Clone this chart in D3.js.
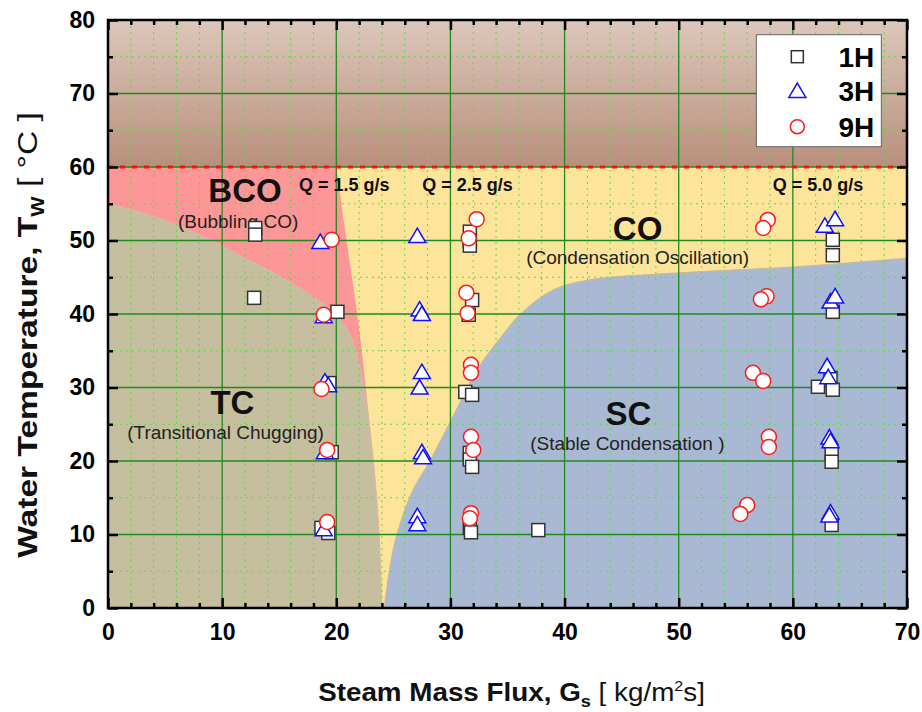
<!DOCTYPE html>
<html>
<head>
<meta charset="utf-8" />
<script src="https://d3js.org/d3.v7.min.js"></script>
<style>
  body { margin: 0; background: #fff; }
  svg text { font-family: Arial, "Liberation Sans", sans-serif; }
</style>
</head>
<body>
<div id="visu"></div>
<script>
// ticks
const xTicks = [0, 10, 20, 30, 40, 50, 60, 70];
const yTicks = [0, 10, 20, 30, 40, 50, 60, 70, 80];

// regime boundaries [Gs, Tw]
const tcBoundary = [[0,55],[4,53.3],[8,50.8],[12,47.6],[15,45.2],[17.5,42.8],[19.5,40.6],[21,37.8],[21.9,34],[22.6,28.3],[23.3,19.2],[23.75,10.2],[24,0]];
const bcoBoundary = [[20,60],[21,49],[22,38],[22.65,29],[23.3,19.2],[23.75,10.2],[24,0]];
const scBoundary = [[24.2,0],[24.7,5.6],[25.3,10],[26.7,16],[28.2,20],[30.2,26],[32.5,32.8],[34.5,37],[36,39.8],[38.9,43.2],[42,44.6],[50,45.6],[60,46.4],[70,47.6]];
const limitTemp = 60;

// measured points [Gs, Tw]
const points1H = [[12.9,51.7],[12.9,50.8],[12.8,42.2],[20.1,40.3],[19.4,30.6],[19.6,21.2],[18.7,10.9],[19.3,10.2],
  [31.7,51.2],[31.7,50.0],[31.7,49.3],[31.9,41.9],[31.6,39.9],[31.3,29.4],[31.9,29.0],[31.7,21.1],[31.7,20.2],[31.9,19.2],[31.7,10.9],[31.8,10.3],
  [37.7,10.6],
  [63.5,50.1],[63.5,48.0],[63.5,40.3],[63.3,31.3],[62.2,30.1],[63.5,29.7],[63.4,21.1],[63.4,19.9],[63.4,11.3]];
const points3H = [[18.6,49.7],[18.9,39.6],[19.0,30.7],[19.3,30.2],[19.0,21.1],[18.9,10.6],
  [27.1,50.5],[27.3,40.5],[27.5,39.9],[27.5,32.0],[27.3,29.9],[27.5,21.1],[27.6,20.4],[27.1,12.4],[27.1,11.3],
  [62.8,51.9],[63.7,52.8],[63.3,41.6],[63.7,42.3],[63.0,32.8],[63.1,31.3],[63.2,23.1],[63.3,22.6],[63.3,12.9],[63.2,12.5]];
const points9H = [[19.6,50.1],[18.9,39.9],[18.7,29.8],[19.2,21.5],[19.2,11.7],
  [32.3,52.9],[31.6,50.3],[31.4,42.9],[31.5,40.1],[31.8,33.1],[31.8,32.0],[31.8,23.3],[32.0,21.5],[31.8,12.9],[31.7,12.2],
  [57.8,52.8],[57.4,51.7],[57.7,42.4],[57.2,42.0],[56.5,32.0],[57.4,30.9],[57.9,23.3],[57.9,21.9],[56.0,14.0],[55.4,12.8]];

const legendNames = ["1H", "3H", "9H"];

const width = 922, height = 712;
const margin = {top: 20, right: 15, bottom: 104, left: 108};
const W = width - margin.left - margin.right;
const H = height - margin.top - margin.bottom;

const svg = d3.select("#visu").append("svg")
  .attr("width", width).attr("height", height);

const x = d3.scaleLinear().domain([0, 70]).range([0, W]);
const y = d3.scaleLinear().domain([0, 80]).range([H, 0]);

const g = svg.append("g").attr("transform", `translate(${margin.left},${margin.top})`);

// gradient for the top band
const defs = svg.append("defs");
const grad = defs.append("linearGradient").attr("id", "topBand")
  .attr("x1", 0).attr("y1", 0).attr("x2", 0).attr("y2", 1);
grad.append("stop").attr("offset", "0%").attr("stop-color", "#dcc7bb");
grad.append("stop").attr("offset", "100%").attr("stop-color", "#b98f7c");

// regions
const line = d3.line().x(d => x(d[0])).y(d => y(d[1])).curve(d3.curveCatmullRom);

// CO (whole lower area, yellow)
g.append("rect").attr("x", 0).attr("y", y(limitTemp)).attr("width", W).attr("height", y(0) - y(limitTemp))
  .attr("fill", "#fde49b");

// BCO pink
g.append("path")
  .attr("d", "M" + x(0) + "," + y(limitTemp) + line(bcoBoundary).replace(/^M/, "L") + "L" + x(0) + "," + y(0) + "Z")
  .attr("fill", "#fd9696");

// SC blue
g.append("path")
  .attr("d", line(scBoundary) + "L" + x(70) + "," + y(0) + "Z")
  .attr("fill", "#aab9d3").attr("stroke", "#c9b98f").attr("stroke-width", 1);

// TC khaki
g.append("path")
  .attr("d", "M" + x(0) + "," + y(0) + line(tcBoundary).replace(/^M/, "L") + "Z")
  .attr("fill", "#c5bf9f").attr("stroke", "#e0b8a0").attr("stroke-width", 1);

// top band
g.append("rect").attr("x", 0).attr("y", 0).attr("width", W).attr("height", y(limitTemp))
  .attr("fill", "url(#topBand)");

// grid: minor dotted
g.append("g").selectAll("line").data(d3.range(2, 70, 2).filter(v => v % 10 !== 0)).enter().append("line")
  .attr("x1", d => x(d)).attr("x2", d => x(d)).attr("y1", 0).attr("y2", H)
  .attr("stroke", "#55e040").attr("stroke-width", 1).attr("stroke-dasharray", "2,4");
g.append("g").selectAll("line").data(d3.range(5, 80, 10)).enter().append("line")
  .attr("y1", d => y(d)).attr("y2", d => y(d)).attr("x1", 0).attr("x2", W)
  .attr("stroke", "#55e040").attr("stroke-width", 1).attr("stroke-dasharray", "2,4");
// grid: major solid
g.append("g").selectAll("line").data(xTicks.slice(1, -1)).enter().append("line")
  .attr("x1", d => x(d)).attr("x2", d => x(d)).attr("y1", 0).attr("y2", H)
  .attr("stroke", "#1f8a1f").attr("stroke-width", 1.3);
g.append("g").selectAll("line").data(yTicks.slice(1, -1)).enter().append("line")
  .attr("y1", d => y(d)).attr("y2", d => y(d)).attr("x1", 0).attr("x2", W)
  .attr("stroke", "#1f8a1f").attr("stroke-width", 1.3);

// red dashed limit
g.append("line").attr("x1", 0).attr("x2", W).attr("y1", y(limitTemp)).attr("y2", y(limitTemp))
  .attr("stroke", "#ff1010").attr("stroke-width", 3).attr("stroke-dasharray", "5,7");

// region labels
const bold = (sel) => sel.attr("font-weight", "bold").attr("fill", "#111");
function regionLabel(big, bx, by, small, sx, sy) {
  g.append("text").attr("x", x(bx)).attr("y", y(by)).attr("text-anchor", "middle")
    .attr("font-size", 33).call(bold).text(big);
  g.append("text").attr("x", x(sx)).attr("y", y(sy)).attr("text-anchor", "middle")
    .attr("font-size", 19).attr("fill", "#222").text(small);
}
regionLabel("BCO", 12.0, 55.2, "(Bubbling CO)", 11.4, 51.7);
regionLabel("TC", 10.9, 26.4, "(Transitional Chugging)", 10.3, 23.0);
regionLabel("CO", 46.4, 50.1, "(Condensation Oscillation)", 46.4, 46.8);
regionLabel("SC", 45.6, 24.9, "(Stable Condensation )", 45.5, 21.5);

const qLabels = [["Q = 1.5 g/s", 20.7], ["Q = 2.5 g/s", 31.5], ["Q = 5.0 g/s", 62.2]];
qLabels.forEach(([t, xv]) => {
  g.append("text").attr("x", x(xv)).attr("y", y(56.7)).attr("text-anchor", "middle")
    .attr("font-size", 18).call(bold).text(t);
});

// markers
const sq = 13, tri = 17, rc = 7.5;
function drawSquare(sel) {
  sel.append("rect").attr("x", d => x(d[0]) - sq / 2).attr("y", d => y(d[1]) - sq / 2)
    .attr("width", sq).attr("height", sq).attr("fill", "#fff").attr("stroke", "#333").attr("stroke-width", 1.5);
}
function triPath(cx, cy) {
  const h = tri * 0.85;
  return `M${cx},${cy - h * 0.6}L${cx + tri / 2},${cy + h * 0.4}L${cx - tri / 2},${cy + h * 0.4}Z`;
}
g.append("g").selectAll("rect").data(points1H).enter().call(drawSquare);
g.append("g").selectAll("path").data(points3H).enter().append("path")
  .attr("d", d => triPath(x(d[0]), y(d[1])))
  .attr("fill", "#fff").attr("stroke", "#1010ff").attr("stroke-width", 1.5);
g.append("g").selectAll("circle").data(points9H).enter().append("circle")
  .attr("cx", d => x(d[0])).attr("cy", d => y(d[1])).attr("r", rc)
  .attr("fill", "#fff").attr("stroke", "#ff1a1a").attr("stroke-width", 1.5);

// axes
function styleAxis(a) {
  a.select(".domain").remove();
  a.selectAll(".tick line").attr("stroke", "#000").attr("stroke-width", 2.5);
  a.selectAll("text").attr("font-size", 23).attr("font-weight", "bold").attr("fill", "#000");
}
const xMinor = d3.range(0, 71, 2).filter(v => v % 10 !== 0);
const yMinor = d3.range(5, 80, 10);

g.append("g").attr("transform", `translate(0,${H})`)
  .call(d3.axisBottom(x).tickValues(xTicks).tickSize(-10).tickPadding(16)).call(styleAxis);
g.append("g").attr("transform", `translate(0,${H})`)
  .call(d3.axisBottom(x).tickValues(xMinor).tickSize(-5).tickFormat("")).call(styleAxis);
g.append("g")
  .call(d3.axisTop(x).tickValues(xTicks).tickSize(-10).tickFormat("")).call(styleAxis);
g.append("g")
  .call(d3.axisTop(x).tickValues(xMinor).tickSize(-5).tickFormat("")).call(styleAxis);
g.append("g")
  .call(d3.axisLeft(y).tickValues(yTicks).tickSize(-10).tickPadding(13)).call(styleAxis);
g.append("g")
  .call(d3.axisLeft(y).tickValues(yMinor).tickSize(-5).tickFormat("")).call(styleAxis);
g.append("g").attr("transform", `translate(${W},0)`)
  .call(d3.axisRight(y).tickValues(yTicks).tickSize(-10).tickFormat("")).call(styleAxis);
g.append("g").attr("transform", `translate(${W},0)`)
  .call(d3.axisRight(y).tickValues(yMinor).tickSize(-5).tickFormat("")).call(styleAxis);

// frame
g.append("rect").attr("x", 0).attr("y", 0).attr("width", W).attr("height", H)
  .attr("fill", "none").attr("stroke", "#000").attr("stroke-width", 2.5);

// legend
const lg = g.append("g").attr("transform", `translate(${x(56.8)},${y(78)})`);
lg.append("rect").attr("width", 125).attr("height", 112).attr("fill", "#fff").attr("stroke", "#666");
const legendRows = [22, 56, 92];
lg.append("rect").attr("x", 35).attr("y", legendRows[0] - 6).attr("width", 12).attr("height", 12)
  .attr("fill", "#fff").attr("stroke", "#333").attr("stroke-width", 1.5);
lg.append("path").attr("d", triPath(41, legendRows[1] + 1))
  .attr("fill", "#fff").attr("stroke", "#1010ff").attr("stroke-width", 1.5);
lg.append("circle").attr("cx", 41).attr("cy", legendRows[2]).attr("r", 7)
  .attr("fill", "#fff").attr("stroke", "#ff1a1a").attr("stroke-width", 1.5);
lg.selectAll("text.name").data(legendNames).enter().append("text")
  .attr("x", 118).attr("y", (d, i) => legendRows[i] + 10).attr("text-anchor", "end")
  .attr("font-size", 28).attr("font-weight", "bold").text(d => d);

// axis titles (stretched to the reference length)
function stretch(text, target) {
  const w = text.node().getBBox().width;
  text.attr("transform", `scale(${target / w},1)`);
}
const xg = svg.append("g").attr("transform", `translate(${(318 + 705) / 2},701)`);
const xt = xg.append("text").attr("text-anchor", "middle").attr("font-size", 26).attr("fill", "#111");
xt.append("tspan").attr("font-weight", "bold").text("Steam Mass Flux, G");
xt.append("tspan").attr("font-size", 17).attr("dy", 6).attr("font-weight", "bold").text("s");
xt.append("tspan").attr("dy", -6).text(" [ kg/m");
xt.append("tspan").attr("font-size", 15).attr("dy", -10).text("2");
xt.append("tspan").attr("dy", 10).text("s]");
stretch(xt, 387);

const yg = svg.append("g").attr("transform", `translate(37,335) rotate(-90)`);
const yt = yg.append("text").attr("text-anchor", "middle").attr("font-size", 28).attr("fill", "#111");
yt.append("tspan").attr("font-weight", "bold").text("Water Temperature, T");
yt.append("tspan").attr("font-size", 18).attr("dy", 7).attr("font-weight", "bold").text("W");
yt.append("tspan").attr("dy", -7).text(" [ °C ]");
stretch(yt, 446);
</script>
</body>
</html>
